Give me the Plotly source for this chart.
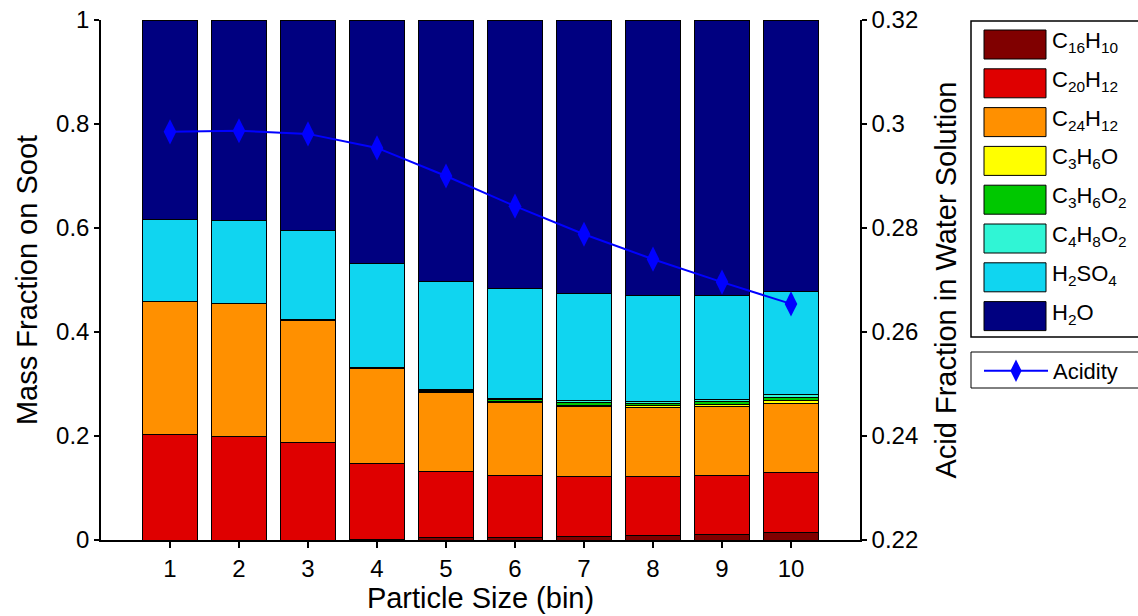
import plotly.graph_objects as go

bins = [1, 2, 3, 4, 5, 6, 7, 8, 9, 10]
species = ["C<sub>16</sub>H<sub>10</sub>", "C<sub>20</sub>H<sub>12</sub>", "C<sub>24</sub>H<sub>12</sub>",
           "C<sub>3</sub>H<sub>6</sub>O", "C<sub>3</sub>H<sub>6</sub>O<sub>2</sub>",
           "C<sub>4</sub>H<sub>8</sub>O<sub>2</sub>", "H<sub>2</sub>SO<sub>4</sub>", "H<sub>2</sub>O"]
colors = ["#800000", "#DF0000", "#FF9000", "#FFFF00", "#00C800", "#30F5D5", "#10D5F0", "#000080"]

c16h10 = [0.000, 0.000, 0.000, 0.001, 0.004, 0.005, 0.007, 0.009, 0.011, 0.014]
c20h12 = [0.202, 0.200, 0.187, 0.147, 0.127, 0.120, 0.116, 0.114, 0.114, 0.115]
c24h12 = [0.256, 0.254, 0.236, 0.181, 0.152, 0.140, 0.133, 0.131, 0.131, 0.133]
c3h6o = [0.0005, 0.0005, 0.0005, 0.001, 0.002, 0.002, 0.003, 0.004, 0.005, 0.006]
c3h6o2 = [0.0005, 0.0005, 0.0005, 0.001, 0.003, 0.004, 0.005, 0.005, 0.005, 0.006]
c4h8o2 = [0.0005, 0.0005, 0.0005, 0.001, 0.002, 0.002, 0.004, 0.004, 0.004, 0.005]
h2so4 = [0.1575, 0.1595, 0.1715, 0.199, 0.208, 0.210, 0.207, 0.204, 0.201, 0.198]
h2o = [0.383, 0.385, 0.404, 0.469, 0.502, 0.517, 0.525, 0.529, 0.529, 0.523]
acidity = [0.2985, 0.2987, 0.2981, 0.2954, 0.2900, 0.2842, 0.2788, 0.2740, 0.2696, 0.2654]

series = [c16h10, c20h12, c24h12, c3h6o, c3h6o2, c4h8o2, h2so4, h2o]

left_ticks = [0, 0.2, 0.4, 0.6, 0.8, 1]
left_text = ["0", "0.2", "0.4", "0.6", "0.8", "1"]
right_ticks = [0.22, 0.24, 0.26, 0.28, 0.30, 0.32]
right_text = ["0.22", "0.24", "0.26", "0.28", "0.3", "0.32"]

FONT = "Liberation Sans, Arial, sans-serif"

fig = go.Figure()
for name, vals, col in zip(species, series, colors):
    fig.add_trace(go.Bar(x=bins, y=vals, name=name, marker=dict(color=col, line=dict(color="black", width=1)),
                         width=0.8, showlegend=False))

fig.add_trace(go.Scatter(x=bins, y=acidity, name="Acidity", yaxis="y2", mode="lines+markers",
                         line=dict(color="#0000FF", width=2),
                         marker=dict(symbol="diamond-tall", size=18, color="#0000FF"),
                         legend="legend"))

# manual legend for the stacked species (swatch + label)
W, H = 1138, 616
L, R, T, B = 101, 278, 20, 76
pw, ph = W - L - R, H - T - B
def px(x):
    return (x - L) / pw
def py(y):
    return (H - B - y) / ph

shapes = [dict(type="rect", xref="paper", yref="paper", x0=px(971), x1=px(1170), y0=py(337), y1=py(21),
               line=dict(color="black", width=1.5), fillcolor="white", layer="below"),
          dict(type="rect", xref="paper", yref="paper", x0=px(971), x1=px(1170), y0=py(388), y1=py(352),
               line=dict(color="black", width=1), fillcolor="white", layer="below")]
annotations = []
for i, (name, col) in enumerate(zip(species, colors)):
    top = 30 + 38.8 * i
    shapes.append(dict(type="rect", xref="paper", yref="paper", x0=px(984), x1=px(1046),
                       y0=py(top + 29), y1=py(top), fillcolor=col, line=dict(color="black", width=1)))
    annotations.append(dict(xref="paper", yref="paper", x=px(1050), y=py(top + 12), text=name,
                            showarrow=False, xanchor="left", yanchor="middle",
                            font=dict(family=FONT, size=22, color="black")))

fig.update_layout(
    width=W, height=H, margin=dict(l=L, r=R, t=T, b=B, autoexpand=False),
    barmode="stack", bargap=0.2,
    paper_bgcolor="white", plot_bgcolor="white",
    font=dict(family=FONT, size=24, color="black"),
    xaxis=dict(range=[0, 11], tickvals=bins, ticktext=[str(b) for b in bins], showline=True, linecolor="black",
               linewidth=1.5, ticks="outside", ticklen=6, tickwidth=1.5, tickcolor="black", showgrid=False,
               zeroline=False, title=dict(text="Particle Size (bin)", standoff=2),
               tickfont=dict(size=24)),
    yaxis=dict(range=[0, 1], tickvals=left_ticks, ticktext=left_text, showline=True, linecolor="black",
               linewidth=1.5, ticks="outside", ticklen=5, tickwidth=1.5, tickcolor="black", showgrid=False,
               zeroline=False, title=dict(text="Mass Fraction on Soot", standoff=10)),
    yaxis2=dict(range=[0.22, 0.32], tickvals=right_ticks, ticktext=right_text, overlaying="y", side="right",
                showline=True, linecolor="black", linewidth=1.5, ticks="outside", ticklen=5, tickwidth=1.5,
                tickcolor="black", showgrid=False, zeroline=False,
                title=dict(text="Acid Fraction in Water Solution", standoff=18)),
    legend=dict(x=px(979), y=py(350), xanchor="left", yanchor="top", borderwidth=0,
                bgcolor="rgba(0,0,0,0)", font=dict(size=22, family=FONT), itemwidth=64,
                tracegroupgap=0, valign="middle"),
    shapes=shapes, annotations=annotations,
)

fig.write_html("out.html")
